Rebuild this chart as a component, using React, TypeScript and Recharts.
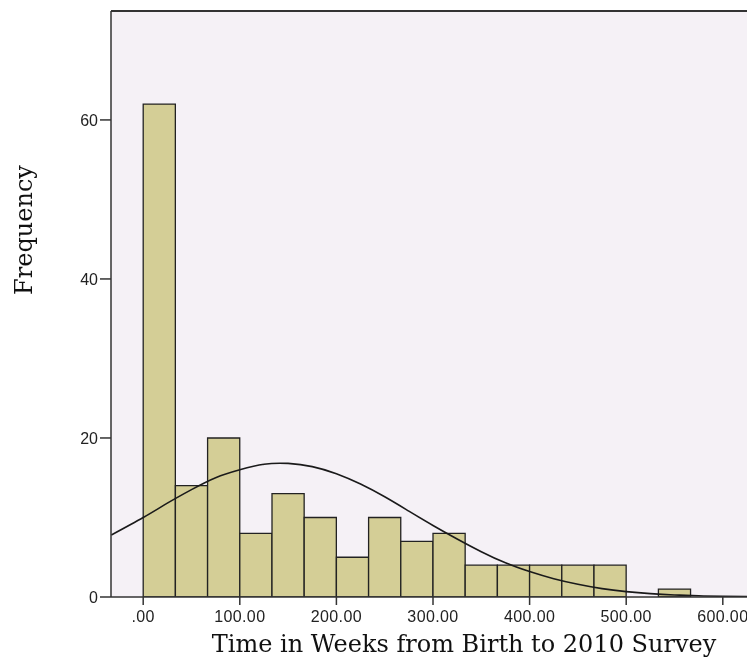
import {
  Bar,
  CartesianGrid,
  ComposedChart,
  Line,
  ReferenceLine,
  XAxis,
  YAxis,
} from "recharts";

// histogram bins (width ~33.33 weeks), midpoints and counts
const binMids = [
  16.67, 50, 83.33, 116.67, 150, 183.33, 216.67, 250, 283.33, 316.67, 350,
  383.33, 416.67, 450, 483.33, 516.67, 550,
];
const frequencies = [62, 14, 20, 8, 13, 10, 5, 10, 7, 8, 4, 4, 4, 4, 4, 0, 1];

// fitted normal curve
const curveX = [
  -33, 0, 25, 50, 75, 100, 125, 150, 175, 200, 225, 250, 275, 300, 325, 350,
  375, 400, 425, 450, 475, 500, 525, 550, 575, 600, 633,
];
const curveY = [
  7.8, 10.0, 11.8, 13.5, 15.0, 16.0, 16.7, 16.8, 16.4, 15.5, 14.2, 12.6, 10.8,
  9.0, 7.3, 5.7, 4.3, 3.2, 2.3, 1.6, 1.05, 0.68, 0.43, 0.26, 0.15, 0.09, 0.04,
];

const xTicks = [0, 100, 200, 300, 400, 500, 600];
const yTicks = [0, 20, 40, 60];

const X_DOMAIN: [number, number] = [-33.33, 633.33];
const Y_MAX = 73.7;

const barData = binMids.map((mid, i) => ({ mid, count: frequencies[i] }));
const curveData = curveX.map((x, i) => ({ x, y: curveY[i] }));

const tickFont = {
  fontFamily: "'Liberation Sans', Arial, sans-serif",
  fontSize: 16,
  fill: "#222",
};
const titleFont = "'DejaVu Serif', serif";

export default function App() {
  return (
    // fixed so the clipped chart never triggers page scrollbars
    <div
      style={{
        position: "fixed",
        top: 8,
        left: 8,
        width: 739,
        height: 652,
        overflow: "hidden",
      }}
    >
      <ComposedChart
        width={747}
        height={652}
        data={barData}
        margin={{ top: 3, right: 0, bottom: 3, left: 0 }}
      >
        <CartesianGrid
          fill="#f5f1f6"
          horizontal={false}
          vertical={false}
          stroke="none"
        />
        <XAxis
          xAxisId="bins"
          type="number"
          dataKey="mid"
          domain={X_DOMAIN}
          allowDataOverflow
          ticks={xTicks}
          tickFormatter={(v: number) => (v === 0 ? ".00" : v.toFixed(2))}
          tick={{ ...tickFont, letterSpacing: 0.4 }}
          tickSize={8}
          tickMargin={6}
          stroke="#333"
          strokeWidth={1.5}
          height={60}
          label={{
            content: () => (
              <text
                x={456}
                y={644}
                textAnchor="middle"
                fontFamily={titleFont}
                fontSize={24}
                fill="#111"
              >
                Time in Weeks from Birth to 2010 Survey
              </text>
            ),
          }}
        />
        <XAxis
          xAxisId="curve"
          type="number"
          dataKey="x"
          domain={X_DOMAIN}
          allowDataOverflow
          hide
        />
        <YAxis
          type="number"
          domain={[0, Y_MAX]}
          allowDataOverflow
          ticks={yTicks}
          tick={tickFont}
          tickSize={11}
          tickMargin={2}
          stroke="#333"
          strokeWidth={1.5}
          width={103}
          label={{
            content: () => (
              <text
                x={24}
                y={222}
                textAnchor="middle"
                transform="rotate(-90, 24, 222)"
                fontFamily={titleFont}
                fontSize={24}
                fill="#111"
              >
                Frequency
              </text>
            ),
          }}
        />
        <ReferenceLine
          xAxisId="bins"
          y={Y_MAX}
          stroke="#333"
          strokeWidth={2}
          ifOverflow="visible"
        />
        <Bar
          xAxisId="bins"
          dataKey="count"
          barSize={32.15}
          fill="#d4ce96"
          stroke="#222"
          strokeWidth={1.3}
          isAnimationActive={false}
        />
        <Line
          xAxisId="curve"
          data={curveData}
          dataKey="y"
          type="natural"
          stroke="#1a1a1a"
          strokeWidth={1.6}
          dot={false}
          activeDot={false}
          isAnimationActive={false}
        />
      </ComposedChart>
    </div>
  );
}
